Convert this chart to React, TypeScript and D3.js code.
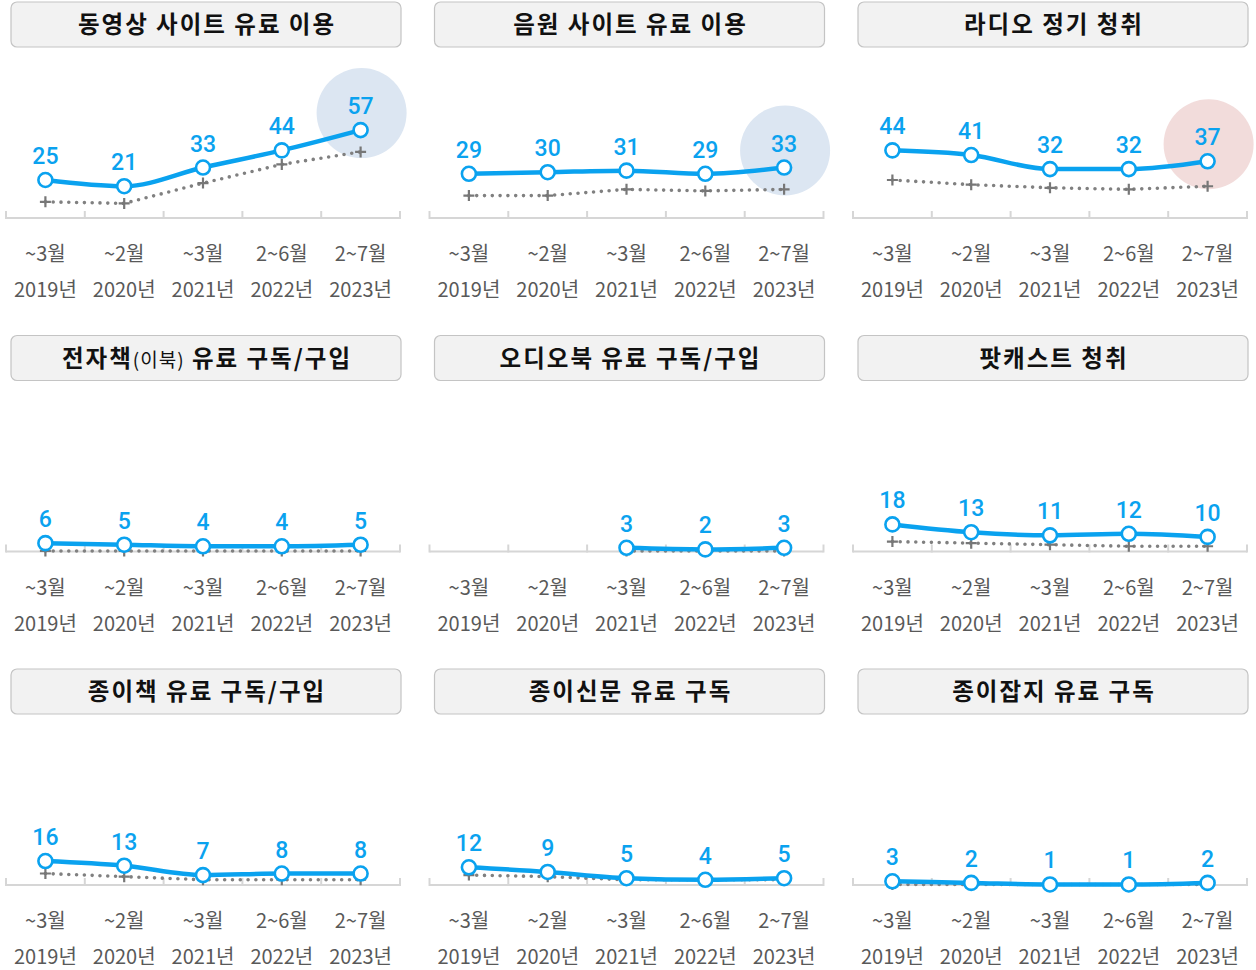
import React, { useEffect, useRef } from "react";
import { select, scaleBand, scaleLinear, line, curveMonotoneX } from "d3";

// x categories
const periods = ["~3월", "~2월", "~3월", "2~6월", "2~7월"];
const years = ["2019년", "2020년", "2021년", "2022년", "2023년"];

// panel titles
const titles = [
  "동영상 사이트 유료 이용",
  "음원 사이트 유료 이용",
  "라디오 정기 청취",
  "전자책(이북) 유료 구독/구입",
  "오디오북 유료 구독/구입",
  "팟캐스트 청취",
  "종이책 유료 구독/구입",
  "종이신문 유료 구독",
  "종이잡지 유료 구독",
];

// blue series (labelled), gray dotted series (unlabelled)
const videoSite = [25, 21, 33, 44, 57];
const videoSiteRef = [11, 10, 23, 35, 43];
const musicSite = [29, 30, 31, 29, 33];
const musicSiteRef = [15, 15, 19, 18, 19];
const radio = [44, 41, 32, 32, 37];
const radioRef = [25, 22, 20, 19, 21];
const ebook = [6, 5, 4, 4, 5];
const ebookRef = [1, 1, 1, 1, 1];
const audiobook = [null, null, 3, 2, 3];
const audiobookRef = [null, null, 1, 1, 1];
const podcast = [18, 13, 11, 12, 10];
const podcastRef = [7, 6, 5, 4, 4];
const paperBook = [16, 13, 7, 8, 8];
const paperBookRef = [8, 6, 4, 4, 4];
const newspaper = [12, 9, 5, 4, 5];
const newspaperRef = [7, 6, 4, 4, 4];
const magazine = [3, 2, 1, 1, 2];
const magazineRef = [1, 1, 1, 1, 1];

// highlight on last point (null = none)
const highlights = ["#dce6f2", "#dce6f2", "#f2dcdb", null, null, null, null, null, null];

const blue = "#0aa2ef";
const gray = "#808080";

const panels = [
  [videoSite, videoSiteRef],
  [musicSite, musicSiteRef],
  [radio, radioRef],
  [ebook, ebookRef],
  [audiobook, audiobookRef],
  [podcast, podcastRef],
  [paperBook, paperBookRef],
  [newspaper, newspaperRef],
  [magazine, magazineRef],
];

const W = 1256;
const H = 970;

const App = () => {
  const svgRef = useRef<SVGSVGElement>(null);

  useEffect(() => {
    const svg = select(svgRef.current);
    svg.selectAll("*").remove();

    panels.forEach(([main, ref], i) => {
      const col = i % 3;
      const row = Math.floor(i / 3);
      const ox = col * 423.5;
      const oy = row * 333.5;
      const g = svg.append("g").attr("transform", `translate(${ox},${oy})`);

      // title box
      g.append("rect")
        .attr("x", 11).attr("y", 2).attr("width", 390).attr("height", 45)
        .attr("rx", 6)
        .attr("fill", "#f2f2f2").attr("stroke", "#c4c4c4").attr("stroke-width", 1.2);
      const t = g.append("text")
        .attr("x", 207).attr("y", 33)
        .attr("text-anchor", "middle")
        .attr("font-family", "'Noto Sans CJK KR', sans-serif")
        .attr("font-size", 23.5).attr("font-weight", 700).attr("fill", "#111")
        .attr("letter-spacing", 2);
      const title = titles[i];
      const m = title.match(/^(.*?)(\(.*?\))(.*)$/);
      if (m) {
        t.append("tspan").text(m[1]);
        t.append("tspan").attr("font-weight", 400).attr("font-size", 19).attr("letter-spacing", 1).text(m[2]);
        t.append("tspan").text(m[3]);
      } else {
        t.text(title);
      }

      const idx = years.map((_, k) => k);
      const x = scaleBand<number>().domain(idx).range([6, 400]).padding(0);
      const cx = (k: number) => (x(k) as number) + x.bandwidth() / 2;
      const y = scaleLinear().domain([0, 100]).range([219, 63]);

      // highlight
      const last = main.length - 1;
      if (highlights[i]) {
        g.append("circle")
          .attr("cx", cx(last) + 1).attr("cy", y(main[last] as number) - 17)
          .attr("r", 45).attr("fill", highlights[i] as string);
      }

      // axis
      const [x0, x1] = x.range();
      g.append("line")
        .attr("x1", x0).attr("x2", x1).attr("y1", 218).attr("y2", 218)
        .attr("stroke", "#d6d6d6").attr("stroke-width", 2);
      g.selectAll(".tick")
        .data([...idx.map((k) => x(k) as number), x1])
        .join("line")
        .attr("x1", (d) => d).attr("x2", (d) => d)
        .attr("y1", 211).attr("y2", 219)
        .attr("stroke", "#d6d6d6").attr("stroke-width", 2);

      // x labels
      g.selectAll(".period")
        .data(periods)
        .join("text")
        .attr("x", (_, k) => cx(k)).attr("y", 261)
        .attr("text-anchor", "middle")
        .attr("font-family", "'Noto Sans CJK KR', sans-serif")
        .attr("font-size", 20).attr("fill", "#595959")
        .text((d) => d);
      g.selectAll(".year")
        .data(years)
        .join("text")
        .attr("x", (_, k) => cx(k)).attr("y", 297)
        .attr("text-anchor", "middle")
        .attr("font-family", "'Noto Sans CJK KR', sans-serif")
        .attr("font-size", 20).attr("fill", "#595959")
        .text((d) => d);

      const refPts = ref.map((v, k) => [k, v] as [number, number | null]).filter((d) => d[1] != null);
      const mainPts = main.map((v, k) => [k, v] as [number, number | null]).filter((d) => d[1] != null);

      // gray dotted
      const refLine = line<[number, number | null]>()
        .x((d) => cx(d[0])).y((d) => y(d[1] as number));
      g.append("path")
        .attr("d", refLine(refPts))
        .attr("fill", "none").attr("stroke", gray).attr("stroke-width", 3.6)
        .attr("stroke-dasharray", "0 7.8").attr("stroke-linecap", "round");
      g.selectAll(".plus")
        .data(refPts)
        .join("path")
        .attr("d", (d) => `M${cx(d[0]) - 5.5},${y(d[1] as number)}h11M${cx(d[0])},${y(d[1] as number) - 5.5}v11`)
        .attr("stroke", "#777").attr("stroke-width", 2.2);

      // blue line
      const mainLine = line<[number, number | null]>()
        .x((d) => cx(d[0])).y((d) => y(d[1] as number))
        .curve(curveMonotoneX);
      g.append("path")
        .attr("d", mainLine(mainPts))
        .attr("fill", "none").attr("stroke", blue).attr("stroke-width", 4.5);
      g.selectAll(".dot")
        .data(mainPts)
        .join("circle")
        .attr("cx", (d) => cx(d[0])).attr("cy", (d) => y(d[1] as number))
        .attr("r", 7).attr("fill", "#fff")
        .attr("stroke", blue).attr("stroke-width", 2.6);
      g.selectAll(".label")
        .data(mainPts)
        .join("text")
        .attr("x", (d) => cx(d[0])).attr("y", (d) => y(d[1] as number) - 16)
        .attr("text-anchor", "middle")
        .attr("font-family", "Roboto, sans-serif")
        .attr("font-size", 23).attr("font-weight", 500).attr("fill", blue)
        .text((d) => String(d[1]));
    });
  }, []);

  return (
    <svg
      ref={svgRef}
      width={W}
      height={H}
      style={{ position: "absolute", left: 0, top: 0, background: "#fff" }}
    />
  );
};

export default App;
